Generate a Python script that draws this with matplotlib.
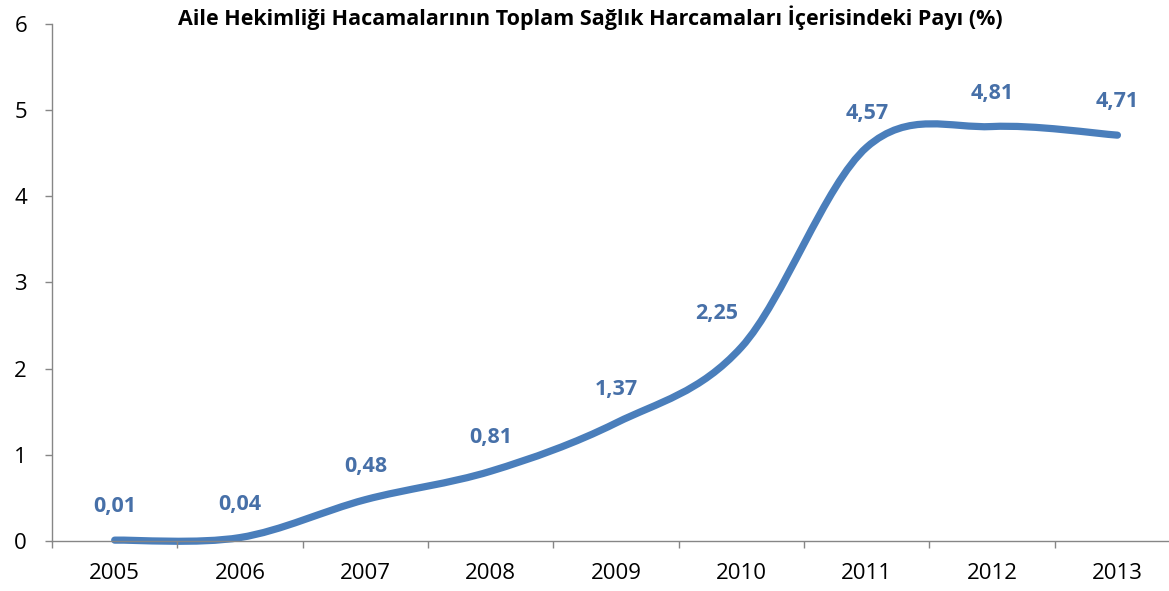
import matplotlib.pyplot as plt
from matplotlib.path import Path
from matplotlib.patches import PathPatch

plt.rcParams['font.family'] = ['Open Sans', 'DejaVu Sans']

years = ['2005', '2006', '2007', '2008', '2009', '2010', '2011', '2012', '2013']
share = [0.01, 0.04, 0.48, 0.81, 1.37, 2.25, 4.57, 4.81, 4.71]
labels = ['0,01', '0,04', '0,48', '0,81', '1,37', '2,25', '4,57', '4,81', '4,71']
# horizontal nudge (points) of each data label
label_dx = [0, 0, 0, 0, 0, -18, 0, 0, 0]

line_color = '#4a7ebb'
label_color = '#4770a8'
axis_color = '#868686'

fig = plt.figure(figsize=(11.69, 5.91), dpi=100)
ax = fig.add_axes([0.0445, 0.0846, 0.965, 0.8748])

# smoothed line like Excel: cubic bezier segments with catmull-rom control points
xs = list(range(len(share)))
pts = list(zip(xs, share))
verts = [pts[0]]
codes = [Path.MOVETO]
n = len(pts)
for i in range(n - 1):
    p0 = pts[i - 1] if i > 0 else pts[i]
    p1 = pts[i]
    p2 = pts[i + 1]
    p3 = pts[i + 2] if i + 2 < n else pts[i + 1]
    c1 = (p1[0] + (p2[0] - p0[0]) / 6, p1[1] + (p2[1] - p0[1]) / 6)
    c2 = (p2[0] - (p3[0] - p1[0]) / 6, p2[1] - (p3[1] - p1[1]) / 6)
    verts += [c1, c2, p2]
    codes += [Path.CURVE4] * 3
curve = PathPatch(Path(verts, codes), facecolor='none', edgecolor=line_color,
                  lw=5.2, capstyle='round', joinstyle='round', clip_on=False)
ax.add_patch(curve)

for x, y, t, dx in zip(xs, share, labels, label_dx):
    ax.annotate(t, (x, y), xytext=(dx, 24), textcoords='offset points',
                ha='center', va='center', fontsize=15.5, fontweight='bold',
                color=label_color)

ax.set_xlim(-0.5, len(years) - 0.5)
ax.set_ylim(0, 6)
ax.set_yticks(range(7))
ax.set_xticks(xs)
ax.set_xticklabels(years)
ax.set_xticks([i - 0.5 for i in range(len(years) + 1)], minor=True)
ax.tick_params(axis='x', which='major', length=0, pad=16, labelsize=16)
ax.tick_params(axis='x', which='minor', length=5, color=axis_color, width=1)
ax.tick_params(axis='y', length=5, color=axis_color, width=1, pad=13, labelsize=16)

for s in ['top', 'right']:
    ax.spines[s].set_visible(False)
for s in ['left', 'bottom']:
    ax.spines[s].set_color(axis_color)
    ax.spines[s].set_linewidth(1)

fig.text(0.505, 0.97, 'Aile Hekimliği Hacamalarının Toplam Sağlık Harcamaları İçerisindeki Payı (%)',
         ha='center', va='center', fontsize=15.5, fontweight='bold')

fig.savefig('out.png', dpi=100)
